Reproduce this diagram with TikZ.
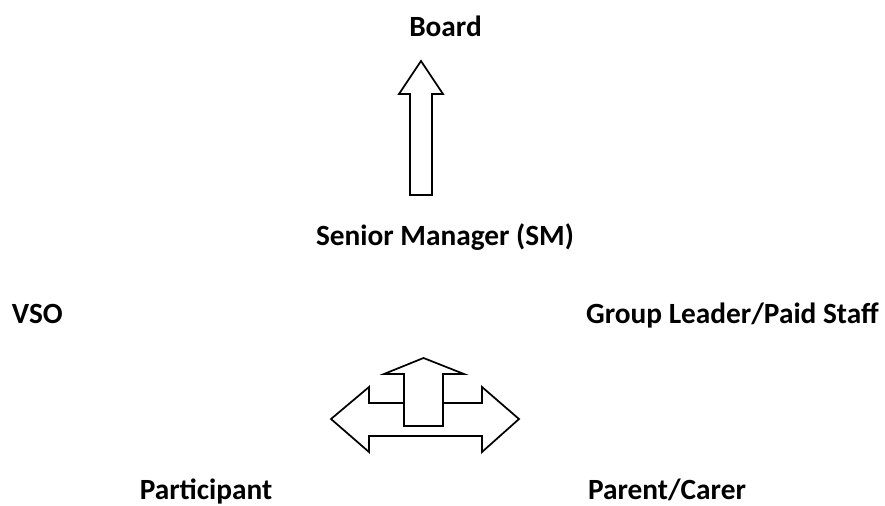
\documentclass[tikz,border=0pt]{standalone}
\usepackage{fontspec}
\setmainfont{Carlito}
\begin{document}
\begin{tikzpicture}[x=0.75pt,y=-0.75pt,
    lbl/.style={font=\fontsize{22}{26}\selectfont\bfseries, inner sep=0pt},
    blockarrow/.style={draw=black, fill=white, line width=1.3pt, line join=miter}]
  \useasboundingbox (0,0) rectangle (885,506);
  % roles
  \node[lbl, anchor=base] (board) at (445.5,36.7) {Board};
  \node[lbl, anchor=base] (sm) at (445,245) {Senior Manager (SM)};
  \node[lbl, anchor=base west] (vso) at (11.7,323.3) {VSO};
  \node[lbl, anchor=base east] (gl) at (879,323.3) {Group Leader/Paid Staff};
  \node[lbl, anchor=base] (part) at (206,499) {Participant};
  \node[lbl, anchor=base] (parent) at (667,499) {Parent/Carer};
  % SM reports up to the board
  \draw[blockarrow] (421,61) -- (443,94) -- (432,94) -- (432,195)
                    -- (410,195) -- (410,94) -- (399,94) -- cycle;
  % left/right arrow, then the up arrow over it
  \draw[blockarrow] (331,419) -- (369,387) -- (369,403) -- (482,403)
                    -- (482,387) -- (519,419) -- (482,452) -- (482,436)
                    -- (369,436) -- (369,452) -- cycle;
  \draw[blockarrow] (423.5,358) -- (464,374) -- (443,374) -- (443,426)
                    -- (404,426) -- (404,374) -- (384,374) -- cycle;
\end{tikzpicture}
\end{document}
